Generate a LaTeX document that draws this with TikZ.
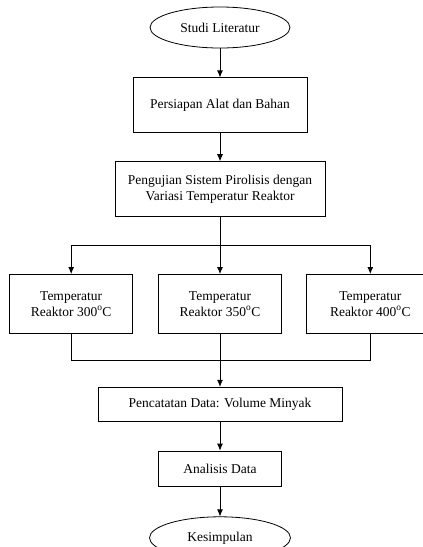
\documentclass[tikz,border=0pt]{standalone}
\usepackage{fontspec}
\setmainfont{Liberation Serif}
\usetikzlibrary{shapes.geometric, arrows.meta, positioning}

\begin{document}
\begin{tikzpicture}[->,>={Latex[length=7pt,width=6pt]},node distance=29pt,
            line width=0.8pt,
            font=\fontsize{13.5}{15.7}\selectfont,
            term/.style={draw,ellipse,minimum width=140pt,minimum height=41pt,inner sep=0pt},
            proc/.style={draw,rectangle,align=center,minimum height=55pt,inner sep=0pt},
            temp/.style={proc,minimum width=123pt,minimum height=59pt}]
            % Fix the frame of the picture
            \useasboundingbox (-220pt,27.5pt) rectangle (203pt,-519.5pt);

            % Define the steps as nodes
            \node[term] (studi) at (0,0) {Studi Literatur};
            \node[proc,minimum width=174pt] (alat) [below=of studi] {Persiapan Alat dan Bahan};
            \node[proc,minimum width=210pt] (uji) [below=28pt of alat] {Pengujian Sistem Pirolisis dengan\\Variasi Temperatur Reaktor};
            \node[temp] (t350) [below=57pt of uji] {Temperatur\\Reaktor 350\textsuperscript{o}C};
            \node[temp] (t300) [left=25pt of t350] {Temperatur\\Reaktor 300\textsuperscript{o}C};
            \node[temp,minimum width=128pt] (t400) [right=24pt of t350] {Temperatur\\Reaktor 400\textsuperscript{o}C};
            \node[proc,minimum width=244pt,minimum height=34pt] (catat) [below=53pt of t350] {Pencatatan Data: Volume Minyak};
            \node[proc,minimum width=123pt,minimum height=35pt] (analisis) [below=of catat] {Analisis Data};
            \node[term,minimum width=141pt,minimum height=42pt] (simpul) [below=30pt of analisis] {Kesimpulan};

            % Connect the steps with arrows
            \draw (studi) -- (alat);
            \draw (alat) -- (uji);
            \draw (uji) -- (t350);
            \coordinate[below=28pt of uji] (cabang);
            \draw (cabang) -| (t300);
            \draw (cabang) -| (t400);

            \draw[-] (t300.south) -- ++(0,-27pt) -| (t400.south);
            \draw (t350) -- (catat);
            \draw (catat) -- (analisis);
            \draw (analisis) -- (simpul);
\end{tikzpicture}
\end{document}
